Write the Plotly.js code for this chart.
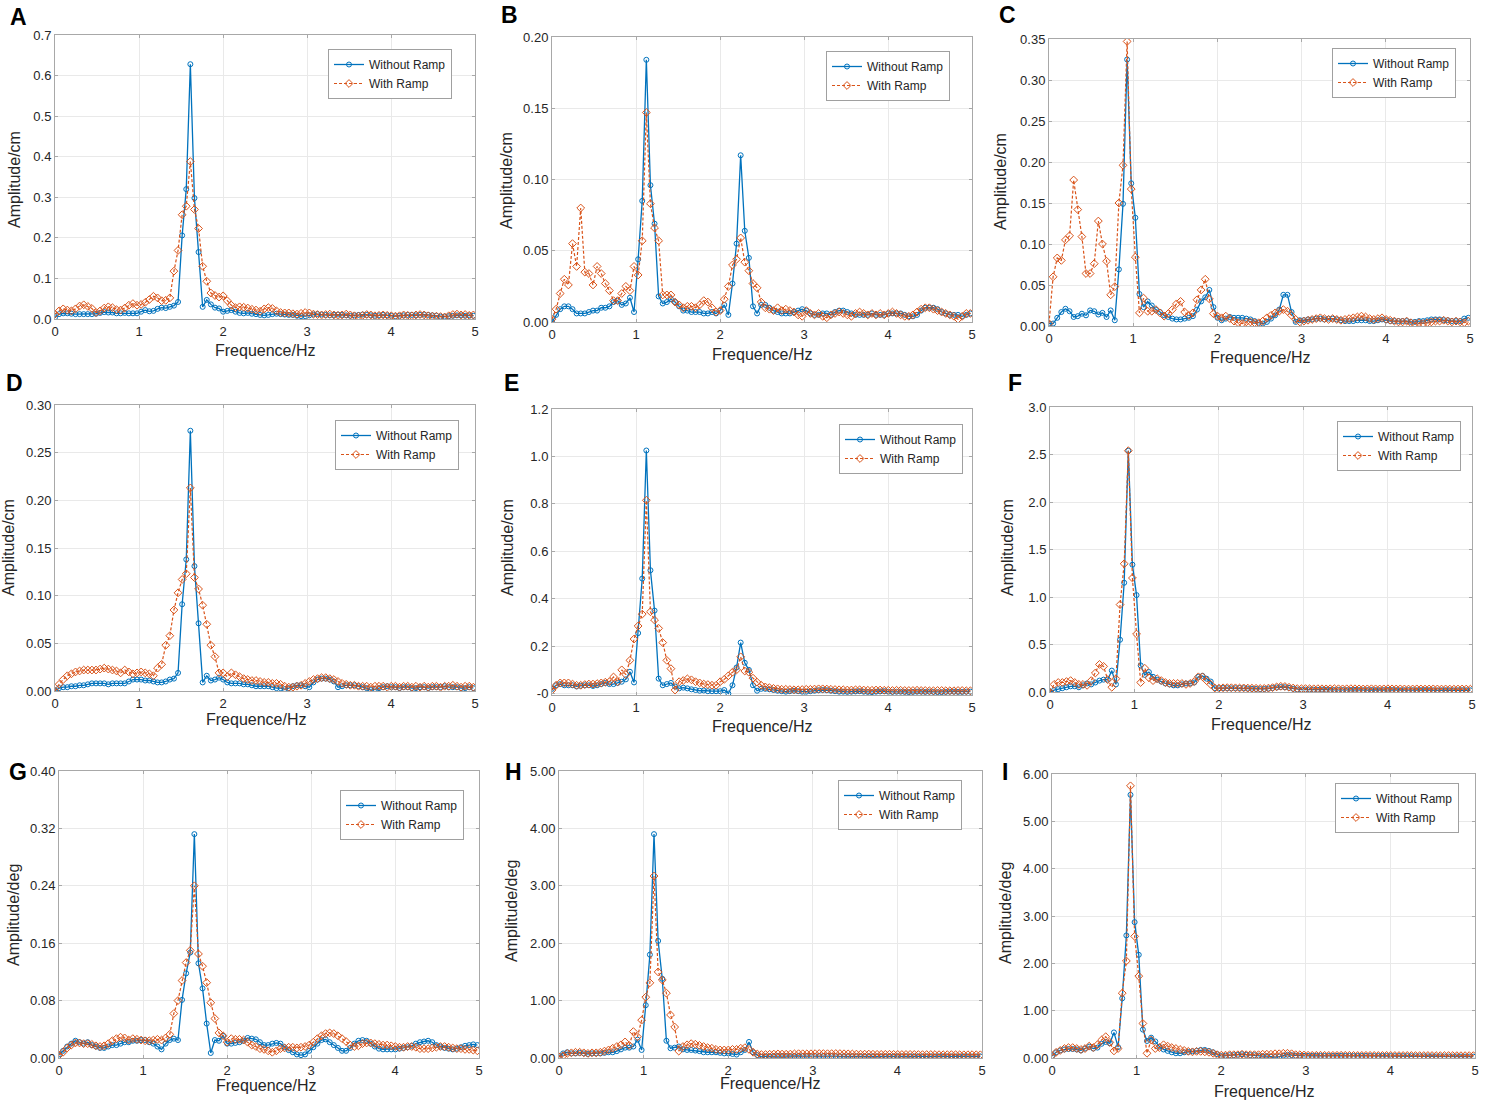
<!DOCTYPE html>
<html>
<head>
<meta charset="utf-8">
<script src="https://cdn.plot.ly/plotly-3.0.1.min.js"></script>
<style>
body {margin: 0; background: #fff;}
#chart {width: 1486px; height: 1102px;}
</style>
</head>
<body>
<div id="chart"></div>
<script>
// spectra are sampled on FFT bins of 50/1024 Hz, starting at 0 Hz (103 bins up to ~4.98 Hz)
var freqStep = 0.048828;
var legendNames = ['Without Ramp', 'With Ramp'];
var freqTicks = [0, 1, 2, 3, 4, 5];

var noRampA = [
    0.004,0.012,0.014,0.014,0.013,0.012,0.012,0.012,0.012,0.012,
    0.013,0.015,0.017,0.016,0.016,0.014,0.014,0.015,0.014,0.014,
    0.014,0.018,0.022,0.019,0.020,0.025,0.028,0.027,0.030,0.033,
    0.042,0.206,0.320,0.628,0.298,0.165,0.030,0.047,0.036,0.028,
    0.026,0.018,0.020,0.022,0.018,0.015,0.014,0.015,0.013,0.012,
    0.010,0.009,0.010,0.012,0.013,0.012,0.011,0.010,0.010,0.008,
    0.007,0.007,0.009,0.011,0.012,0.011,0.010,0.009,0.010,0.011,
    0.010,0.009,0.008,0.009,0.010,0.011,0.010,0.009,0.008,0.009,
    0.010,0.009,0.008,0.007,0.008,0.009,0.010,0.010,0.009,0.010,
    0.011,0.010,0.009,0.008,0.006,0.006,0.007,0.008,0.009,0.009,
    0.008,0.009,0.008];
var rampA = [
    0.012,0.020,0.025,0.022,0.020,0.025,0.032,0.035,0.031,0.026,
    0.016,0.020,0.027,0.030,0.028,0.023,0.022,0.027,0.034,0.038,
    0.034,0.036,0.041,0.048,0.056,0.052,0.045,0.046,0.052,0.118,
    0.169,0.257,0.278,0.388,0.270,0.223,0.130,0.093,0.064,0.058,
    0.054,0.057,0.045,0.034,0.028,0.030,0.029,0.027,0.024,0.022,
    0.019,0.025,0.028,0.026,0.020,0.016,0.015,0.015,0.013,0.012,
    0.014,0.016,0.015,0.012,0.011,0.010,0.011,0.012,0.010,0.009,
    0.010,0.012,0.010,0.008,0.007,0.009,0.011,0.010,0.008,0.009,
    0.010,0.009,0.008,0.007,0.008,0.010,0.009,0.008,0.010,0.011,
    0.010,0.008,0.007,0.007,0.006,0.005,0.008,0.011,0.012,0.010,
    0.011,0.009,0.010];

var noRampB = [
    0.000,0.005,0.009,0.011,0.011,0.009,0.006,0.006,0.006,0.007,
    0.008,0.008,0.010,0.010,0.011,0.014,0.015,0.012,0.013,0.017,
    0.007,0.044,0.085,0.184,0.096,0.069,0.018,0.013,0.014,0.016,
    0.014,0.011,0.008,0.008,0.007,0.007,0.007,0.006,0.006,0.007,
    0.006,0.008,0.012,0.005,0.027,0.055,0.117,0.064,0.045,0.011,
    0.006,0.012,0.012,0.010,0.008,0.007,0.006,0.006,0.006,0.007,
    0.008,0.009,0.008,0.006,0.005,0.005,0.006,0.006,0.005,0.007,
    0.008,0.008,0.007,0.006,0.005,0.005,0.005,0.005,0.006,0.005,
    0.005,0.005,0.006,0.006,0.006,0.006,0.005,0.004,0.004,0.005,
    0.008,0.010,0.010,0.010,0.009,0.007,0.006,0.005,0.005,0.005,
    0.004,0.005,0.006];
var rampB = [
    0.002,0.009,0.020,0.030,0.026,0.055,0.039,0.080,0.035,0.034,
    0.026,0.039,0.034,0.027,0.022,0.015,0.015,0.020,0.025,0.022,
    0.039,0.033,0.057,0.147,0.083,0.066,0.057,0.019,0.019,0.019,
    0.014,0.012,0.010,0.011,0.011,0.010,0.012,0.015,0.014,0.010,
    0.007,0.008,0.016,0.025,0.040,0.044,0.059,0.042,0.036,0.027,
    0.024,0.014,0.010,0.009,0.008,0.010,0.008,0.009,0.008,0.007,
    0.005,0.004,0.008,0.006,0.005,0.006,0.004,0.003,0.005,0.006,
    0.007,0.006,0.005,0.004,0.006,0.007,0.006,0.005,0.006,0.005,
    0.006,0.005,0.006,0.007,0.006,0.005,0.004,0.004,0.005,0.007,
    0.009,0.010,0.010,0.009,0.008,0.007,0.006,0.005,0.004,0.002,
    0.004,0.006,0.006];

var noRampC = [
    0.003,0.003,0.010,0.017,0.021,0.018,0.011,0.012,0.015,0.013,
    0.019,0.018,0.014,0.016,0.011,0.019,0.007,0.069,0.149,0.325,
    0.174,0.132,0.039,0.023,0.030,0.025,0.020,0.017,0.013,0.011,
    0.009,0.008,0.008,0.009,0.010,0.012,0.020,0.030,0.035,0.044,
    0.023,0.010,0.007,0.009,0.011,0.010,0.010,0.010,0.009,0.008,
    0.006,0.004,0.003,0.005,0.009,0.013,0.020,0.038,0.038,0.017,
    0.005,0.007,0.007,0.008,0.008,0.009,0.009,0.008,0.009,0.009,
    0.008,0.007,0.006,0.006,0.006,0.007,0.007,0.007,0.006,0.006,
    0.007,0.008,0.007,0.006,0.006,0.006,0.006,0.006,0.005,0.005,
    0.006,0.006,0.007,0.008,0.008,0.008,0.007,0.007,0.006,0.006,
    0.006,0.009,0.010];
var rampC = [
    0.003,0.060,0.083,0.080,0.105,0.110,0.178,0.142,0.109,0.064,
    0.064,0.076,0.128,0.100,0.079,0.038,0.048,0.150,0.196,0.347,
    0.167,0.084,0.016,0.034,0.018,0.018,0.020,0.016,0.012,0.015,
    0.020,0.027,0.030,0.017,0.013,0.016,0.032,0.044,0.057,0.033,
    0.015,0.012,0.010,0.012,0.009,0.006,0.004,0.003,0.005,0.005,
    0.004,0.004,0.006,0.010,0.013,0.016,0.018,0.020,0.018,0.013,
    0.008,0.005,0.006,0.007,0.008,0.009,0.010,0.009,0.008,0.009,
    0.008,0.007,0.008,0.009,0.010,0.011,0.012,0.011,0.009,0.008,
    0.009,0.010,0.008,0.007,0.006,0.005,0.005,0.006,0.004,0.003,
    0.004,0.003,0.004,0.005,0.006,0.006,0.007,0.006,0.005,0.006,
    0.005,0.004,0.006];

var noRampD = [
    0.000,0.003,0.004,0.004,0.005,0.005,0.006,0.006,0.007,0.008,
    0.008,0.008,0.008,0.007,0.008,0.008,0.008,0.008,0.010,0.012,
    0.012,0.012,0.011,0.011,0.010,0.009,0.009,0.010,0.012,0.013,
    0.019,0.091,0.138,0.273,0.131,0.071,0.009,0.016,0.011,0.012,
    0.014,0.012,0.009,0.008,0.008,0.008,0.007,0.007,0.006,0.005,
    0.005,0.005,0.005,0.004,0.003,0.003,0.002,0.003,0.005,0.006,
    0.006,0.005,0.004,0.009,0.012,0.013,0.013,0.012,0.010,0.004,
    0.005,0.006,0.006,0.006,0.005,0.004,0.003,0.001,0.002,0.003,
    0.004,0.005,0.004,0.004,0.003,0.004,0.004,0.003,0.003,0.004,
    0.004,0.003,0.004,0.004,0.004,0.005,0.004,0.004,0.004,0.003,
    0.003,0.004,0.003];
var rampD = [
    0.000,0.007,0.012,0.016,0.018,0.020,0.021,0.022,0.022,0.022,
    0.022,0.023,0.024,0.023,0.022,0.021,0.019,0.022,0.020,0.018,
    0.019,0.020,0.019,0.018,0.016,0.024,0.028,0.048,0.058,0.085,
    0.103,0.117,0.123,0.213,0.119,0.107,0.090,0.070,0.048,0.036,
    0.019,0.019,0.015,0.019,0.017,0.015,0.013,0.012,0.011,0.011,
    0.010,0.009,0.009,0.008,0.008,0.007,0.005,0.004,0.004,0.005,
    0.006,0.008,0.010,0.012,0.013,0.014,0.014,0.013,0.012,0.010,
    0.008,0.007,0.006,0.006,0.005,0.005,0.005,0.004,0.005,0.005,
    0.005,0.004,0.005,0.005,0.004,0.005,0.005,0.004,0.005,0.004,
    0.005,0.004,0.005,0.005,0.004,0.005,0.005,0.006,0.005,0.004,
    0.005,0.005,0.004];

var noRampE = [
    0.020,0.035,0.040,0.035,0.035,0.035,0.030,0.033,0.035,0.035,
    0.032,0.035,0.040,0.045,0.040,0.040,0.045,0.050,0.060,0.092,
    0.047,0.255,0.485,1.025,0.520,0.350,0.063,0.035,0.040,0.045,
    0.030,0.022,0.025,0.022,0.018,0.015,0.012,0.013,0.010,0.010,
    0.010,0.010,0.015,0.000,0.035,0.110,0.215,0.130,0.100,0.035,
    0.012,0.020,0.020,0.018,0.015,0.012,0.010,0.008,0.010,0.012,
    0.010,0.008,0.008,0.010,0.012,0.014,0.015,0.014,0.012,0.010,
    0.008,0.008,0.007,0.008,0.009,0.010,0.008,0.007,0.006,0.008,
    0.009,0.010,0.008,0.007,0.008,0.008,0.007,0.006,0.007,0.008,
    0.008,0.007,0.008,0.007,0.006,0.006,0.007,0.008,0.008,0.007,
    0.007,0.008,0.008];
var rampE = [
    0.015,0.035,0.045,0.045,0.045,0.040,0.035,0.035,0.038,0.040,
    0.040,0.042,0.045,0.048,0.050,0.070,0.050,0.100,0.080,0.140,
    0.230,0.285,0.335,0.815,0.345,0.310,0.275,0.215,0.140,0.105,
    0.015,0.050,0.055,0.062,0.058,0.050,0.045,0.040,0.038,0.035,
    0.035,0.050,0.060,0.075,0.090,0.100,0.155,0.095,0.090,0.065,
    0.048,0.035,0.028,0.025,0.022,0.020,0.018,0.018,0.017,0.016,
    0.016,0.017,0.018,0.018,0.019,0.020,0.020,0.019,0.018,0.017,
    0.016,0.016,0.015,0.015,0.016,0.016,0.015,0.014,0.014,0.015,
    0.015,0.014,0.014,0.013,0.014,0.014,0.013,0.013,0.013,0.014,
    0.013,0.013,0.012,0.012,0.013,0.013,0.012,0.012,0.012,0.013,
    0.013,0.012,0.012];

var noRampF = [
    0.000,0.020,0.030,0.040,0.050,0.060,0.060,0.050,0.070,0.090,
    0.080,0.100,0.120,0.130,0.130,0.225,0.080,0.550,1.150,2.540,
    1.340,1.020,0.280,0.180,0.210,0.160,0.130,0.110,0.090,0.080,
    0.070,0.070,0.080,0.090,0.090,0.100,0.160,0.170,0.140,0.110,
    0.040,0.040,0.042,0.040,0.038,0.040,0.042,0.040,0.036,0.034,
    0.032,0.030,0.032,0.036,0.042,0.048,0.052,0.050,0.044,0.034,
    0.026,0.024,0.025,0.026,0.024,0.023,0.025,0.024,0.022,0.021,
    0.022,0.021,0.020,0.021,0.022,0.020,0.019,0.020,0.021,0.020,
    0.019,0.020,0.021,0.020,0.019,0.018,0.019,0.020,0.019,0.018,
    0.019,0.020,0.019,0.018,0.017,0.018,0.019,0.018,0.017,0.018,
    0.019,0.018,0.018];
var rampF = [
    0.000,0.080,0.100,0.100,0.110,0.120,0.100,0.080,0.080,0.070,
    0.120,0.200,0.290,0.270,0.130,0.050,0.140,0.920,1.350,2.540,
    1.200,0.610,0.100,0.250,0.150,0.120,0.140,0.120,0.100,0.090,
    0.090,0.090,0.090,0.080,0.090,0.110,0.160,0.160,0.120,0.080,
    0.042,0.040,0.044,0.046,0.045,0.044,0.042,0.043,0.041,0.040,
    0.039,0.037,0.038,0.041,0.046,0.054,0.060,0.058,0.050,0.042,
    0.036,0.035,0.036,0.035,0.034,0.035,0.034,0.033,0.034,0.035,
    0.034,0.033,0.034,0.035,0.034,0.033,0.032,0.033,0.034,0.033,
    0.032,0.033,0.034,0.033,0.032,0.033,0.032,0.031,0.032,0.033,
    0.032,0.031,0.032,0.033,0.032,0.031,0.032,0.031,0.030,0.031,
    0.032,0.031,0.030];

var noRampG = [
    0.005,0.010,0.016,0.020,0.024,0.022,0.020,0.022,0.018,0.016,
    0.014,0.014,0.016,0.018,0.018,0.020,0.022,0.022,0.024,0.024,
    0.025,0.025,0.022,0.020,0.016,0.012,0.020,0.025,0.027,0.025,
    0.081,0.118,0.147,0.312,0.132,0.097,0.048,0.007,0.025,0.024,
    0.031,0.020,0.020,0.021,0.022,0.024,0.028,0.027,0.026,0.022,
    0.018,0.018,0.020,0.021,0.020,0.015,0.011,0.008,0.005,0.004,
    0.005,0.010,0.015,0.020,0.025,0.026,0.022,0.018,0.014,0.010,
    0.010,0.014,0.020,0.024,0.025,0.024,0.020,0.016,0.013,0.012,
    0.012,0.012,0.012,0.013,0.014,0.015,0.017,0.020,0.022,0.023,
    0.024,0.022,0.018,0.016,0.014,0.013,0.012,0.013,0.015,0.017,
    0.018,0.019,0.018];
var rampG = [
    0.004,0.008,0.014,0.018,0.021,0.021,0.020,0.020,0.019,0.017,
    0.016,0.017,0.020,0.024,0.027,0.029,0.028,0.025,0.027,0.026,
    0.025,0.024,0.024,0.025,0.026,0.025,0.028,0.033,0.062,0.080,
    0.108,0.133,0.150,0.240,0.145,0.128,0.105,0.077,0.055,0.035,
    0.031,0.022,0.027,0.026,0.026,0.025,0.022,0.018,0.016,0.013,
    0.012,0.010,0.008,0.010,0.013,0.014,0.015,0.015,0.014,0.015,
    0.016,0.018,0.022,0.027,0.031,0.034,0.035,0.034,0.031,0.027,
    0.023,0.018,0.016,0.017,0.020,0.021,0.021,0.020,0.019,0.018,
    0.018,0.017,0.016,0.015,0.015,0.016,0.016,0.015,0.013,0.013,
    0.013,0.014,0.015,0.016,0.016,0.015,0.014,0.013,0.013,0.012,
    0.012,0.011,0.010];

var noRampH = [
    0.030,0.080,0.100,0.080,0.080,0.090,0.080,0.070,0.080,0.080,
    0.080,0.090,0.100,0.100,0.120,0.150,0.180,0.180,0.200,0.320,
    0.140,0.920,1.800,3.900,2.040,1.380,0.300,0.170,0.180,0.200,
    0.150,0.140,0.140,0.130,0.120,0.100,0.100,0.100,0.100,0.090,
    0.080,0.080,0.070,0.060,0.100,0.140,0.280,0.100,0.050,0.020,
    0.030,0.032,0.035,0.038,0.036,0.034,0.033,0.035,0.036,0.034,
    0.032,0.031,0.033,0.034,0.035,0.034,0.032,0.031,0.030,0.031,
    0.032,0.031,0.030,0.029,0.030,0.031,0.030,0.029,0.028,0.029,
    0.030,0.029,0.028,0.029,0.030,0.029,0.028,0.027,0.028,0.029,
    0.028,0.027,0.028,0.029,0.028,0.027,0.026,0.027,0.028,0.027,
    0.026,0.027,0.028];
var rampH = [
    0.020,0.040,0.080,0.090,0.100,0.100,0.090,0.080,0.090,0.090,
    0.100,0.120,0.140,0.170,0.200,0.230,0.280,0.220,0.460,0.370,
    0.660,1.060,1.310,3.170,1.500,1.360,1.130,0.750,0.540,0.120,
    0.200,0.230,0.250,0.240,0.220,0.200,0.180,0.170,0.150,0.140,
    0.140,0.140,0.150,0.150,0.170,0.180,0.150,0.100,0.070,0.060,
    0.060,0.065,0.068,0.070,0.068,0.066,0.068,0.072,0.075,0.074,
    0.072,0.074,0.076,0.078,0.077,0.075,0.076,0.078,0.077,0.074,
    0.072,0.070,0.068,0.066,0.067,0.068,0.066,0.064,0.063,0.064,
    0.065,0.063,0.062,0.061,0.062,0.063,0.062,0.060,0.059,0.060,
    0.061,0.060,0.058,0.057,0.058,0.059,0.058,0.057,0.056,0.057,
    0.058,0.057,0.056];

var noRampI = [
    0.040,0.120,0.160,0.180,0.190,0.190,0.180,0.160,0.200,0.240,
    0.200,0.220,0.300,0.340,0.310,0.540,0.230,1.260,2.590,5.560,
    2.870,2.180,0.600,0.360,0.430,0.350,0.240,0.180,0.150,0.120,
    0.100,0.100,0.120,0.130,0.140,0.150,0.170,0.170,0.150,0.120,
    0.080,0.040,0.050,0.060,0.060,0.070,0.080,0.070,0.060,0.060,
    0.050,0.040,0.040,0.030,0.020,0.030,0.050,0.070,0.060,0.050,
    0.048,0.046,0.045,0.046,0.047,0.046,0.044,0.043,0.044,0.045,
    0.046,0.045,0.044,0.043,0.044,0.045,0.044,0.042,0.041,0.042,
    0.043,0.042,0.041,0.040,0.041,0.040,0.039,0.038,0.037,0.036,
    0.035,0.034,0.033,0.032,0.033,0.032,0.031,0.030,0.031,0.030,
    0.029,0.030,0.029];
var rampI = [
    0.050,0.120,0.160,0.200,0.220,0.220,0.200,0.180,0.200,0.250,
    0.220,0.280,0.380,0.450,0.330,0.150,0.200,1.370,2.050,5.750,
    2.570,1.730,0.730,0.100,0.380,0.200,0.220,0.280,0.250,0.220,
    0.200,0.180,0.160,0.140,0.130,0.140,0.140,0.130,0.120,0.100,
    0.070,0.060,0.060,0.070,0.070,0.070,0.080,0.070,0.070,0.070,
    0.070,0.080,0.080,0.080,0.090,0.090,0.100,0.100,0.090,0.070,
    0.068,0.062,0.058,0.056,0.057,0.058,0.056,0.055,0.056,0.057,
    0.058,0.057,0.056,0.055,0.054,0.055,0.056,0.055,0.054,0.053,
    0.054,0.055,0.054,0.053,0.052,0.053,0.054,0.053,0.052,0.051,
    0.052,0.053,0.052,0.051,0.050,0.051,0.052,0.051,0.050,0.049,
    0.050,0.051,0.050];

// y tick labels per panel
var ticksA = [0, 0.1, 0.2, 0.3, 0.4, 0.5, 0.6, 0.7];
var ticksB = [0, 0.05, 0.10, 0.15, 0.20];
var ticksC = [0, 0.05, 0.10, 0.15, 0.20, 0.25, 0.30, 0.35];
var ticksD = [0, 0.05, 0.10, 0.15, 0.20, 0.25, 0.30];
var ticksE = [0, 0.2, 0.4, 0.6, 0.8, 1.0, 1.2];
var ticksF = [0, 0.5, 1.0, 1.5, 2.0, 2.5, 3.0];
var ticksG = [0, 0.08, 0.16, 0.24, 0.32, 0.40];
var ticksH = [0, 1, 2, 3, 4, 5];
var ticksI = [0, 1, 2, 3, 4, 5, 6];
var textE = ['-0', '0.2', '0.4', '0.6', '0.8', '1.0', '1.2'];

var W = 1486, H = 1102;
var blue = '#0072BD', orange = '#D95319';
var fontFamily = 'Liberation Sans, Arial, sans-serif';

// box = plot area in px [left, top, right, bottom]; xt / yt = centre of the axis titles in px
var panels = [
    {letter: 'A', unit: 'cm',  noRamp: noRampA, ramp: rampA, ticks: ticksA, fmt: '.1f', yRange: [0, 0.7],
     box: [55, 35, 475, 319], legendAt: [328, 49], letterAt: [18, 17], xt: [265, 351], yt: [15, 180]},
    {letter: 'B', unit: 'cm',  noRamp: noRampB, ramp: rampB, ticks: ticksB, fmt: '.2f', yRange: [0, 0.2],
     box: [552, 37, 972, 322], legendAt: [826, 51], letterAt: [510, 15], xt: [762, 355], yt: [506, 181]},
    {letter: 'C', unit: 'cm',  noRamp: noRampC, ramp: rampC, ticks: ticksC, fmt: '.2f', yRange: [0, 0.35],
     box: [1049, 39, 1470, 326], legendAt: [1332, 48], letterAt: [1007, 15], xt: [1260, 357], yt: [1001, 182]},
    {letter: 'D', unit: 'cm',  noRamp: noRampD, ramp: rampD, ticks: ticksD, fmt: '.2f', yRange: [0, 0.3],
     box: [55, 405, 475, 691], legendAt: [335, 420], letterAt: [15, 383], xt: [256, 719], yt: [9, 548]},
    {letter: 'E', unit: 'cm',  noRamp: noRampE, ramp: rampE, ticks: ticksE, text: textE, yRange: [-0.006, 1.2],
     box: [552, 409, 972, 695], legendAt: [839, 424], letterAt: [511, 383], xt: [762, 726], yt: [508, 548]},
    {letter: 'F', unit: 'cm',  noRamp: noRampF, ramp: rampF, ticks: ticksF, fmt: '.1f', yRange: [0, 3],
     box: [1050, 407, 1472, 692], legendAt: [1337, 421], letterAt: [1015, 383], xt: [1261, 724], yt: [1008, 548]},
    {letter: 'G', unit: 'deg', noRamp: noRampG, ramp: rampG, ticks: ticksG, fmt: '.2f', yRange: [0, 0.4],
     box: [59, 771, 479, 1058], legendAt: [340, 790], letterAt: [18, 772], xt: [266, 1085], yt: [14, 915]},
    {letter: 'H', unit: 'deg', noRamp: noRampH, ramp: rampH, ticks: ticksH, fmt: '.2f', yRange: [0, 5],
     box: [559, 771, 982, 1058], legendAt: [838, 780], letterAt: [513, 772], xt: [770, 1083], yt: [511, 911]},
    {letter: 'I', unit: 'deg', noRamp: noRampI, ramp: rampI, ticks: ticksI, fmt: '.2f', yRange: [0, 6],
     box: [1052, 774, 1475, 1058], legendAt: [1335, 783], letterAt: [1005, 772], xt: [1264, 1091], yt: [1005, 913]}
];

var traces = [];
var layout = {
    width: W,
    height: H,
    margin: {l: 0, r: 0, t: 0, b: 0},
    paper_bgcolor: '#fff',
    plot_bgcolor: '#fff',
    font: {family: fontFamily, color: '#262626', size: 13},
    annotations: []
};

var axisStyle = {
    showgrid: true, gridcolor: '#e9e9e9', gridwidth: 1,
    zeroline: false, showline: true, mirror: 'ticks', linecolor: '#a8a8a8', linewidth: 1,
    ticks: 'inside', ticklen: 3, tickcolor: '#a8a8a8',
    tickfont: {size: 13, color: '#262626'}, automargin: false
};

function textNote(text, at, angle, size, color) {
    return {
        text: text, xref: 'paper', yref: 'paper', x: at[0] / W, y: 1 - at[1] / H,
        xanchor: 'center', yanchor: 'middle', textangle: angle, showarrow: false,
        font: {size: size, color: color, family: fontFamily}
    };
}

panels.forEach(function(p, k) {
    var n = k === 0 ? '' : String(k + 1);
    var xa = 'x' + n, ya = 'y' + n, lg = 'legend' + n;
    var b = p.box;

    traces.push({
        x0: 0, dx: freqStep, y: p.noRamp, xaxis: xa, yaxis: ya, legend: lg,
        name: legendNames[0], mode: 'lines+markers', hoverinfo: 'skip',
        line: {color: blue, width: 1.3},
        marker: {symbol: 'circle-open', size: 5, color: blue, line: {width: 1}}
    });
    traces.push({
        x0: 0, dx: freqStep, y: p.ramp, xaxis: xa, yaxis: ya, legend: lg,
        name: legendNames[1], mode: 'lines+markers', hoverinfo: 'skip',
        line: {color: orange, width: 1.2, dash: '3px,2px'},
        marker: {symbol: 'diamond-open', size: 6, color: orange, line: {width: 1}}
    });

    layout['xaxis' + n] = Object.assign({}, axisStyle, {
        domain: [b[0] / W, b[2] / W], anchor: ya, range: [0, 5],
        tickvals: freqTicks, tickformat: 'd'
    });
    var yax = Object.assign({}, axisStyle, {
        domain: [1 - b[3] / H, 1 - b[1] / H], anchor: xa, range: p.yRange,
        tickvals: p.ticks
    });
    if (p.text) yax.ticktext = p.text; else yax.tickformat = p.fmt;
    layout['yaxis' + n] = yax;

    layout[lg] = {
        x: p.legendAt[0] / W, y: 1 - p.legendAt[1] / H, xanchor: 'left', yanchor: 'top',
        bgcolor: '#fff', bordercolor: '#a0a0a0', borderwidth: 1,
        font: {size: 12, color: '#262626'}, tracegroupgap: 0
    };

    layout.annotations.push(textNote('Frequence/Hz', p.xt, 0, 16, '#262626'));
    layout.annotations.push(textNote('Amplitude/' + p.unit, p.yt, -90, 16, '#262626'));
    layout.annotations.push(textNote('<b>' + p.letter + '</b>', p.letterAt, 0, 23, '#000'));
});

Plotly.newPlot('chart', traces, layout, {staticPlot: true});
</script>
</body>
</html>
